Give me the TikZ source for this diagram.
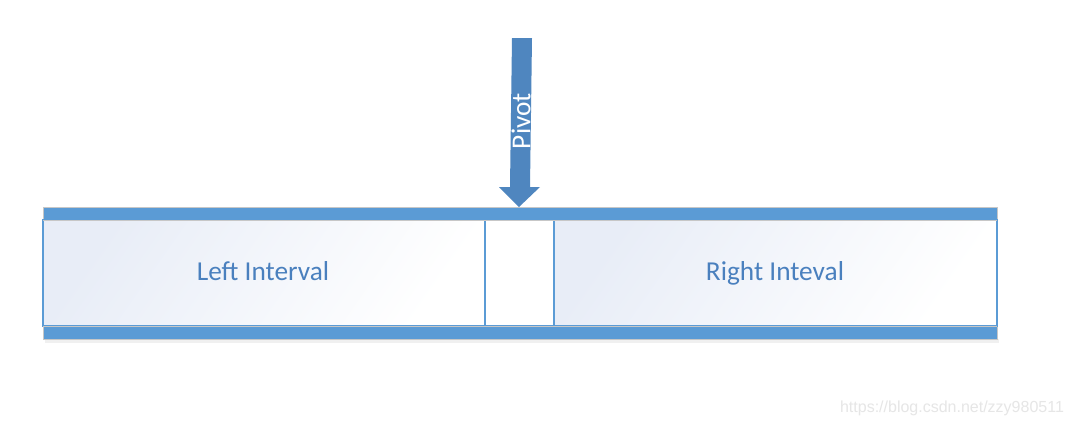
\documentclass[tikz,border=0pt]{standalone}
\usepackage{fontspec}
\setmainfont{Carlito}
\usetikzlibrary{shadings}
\definecolor{barblue}{HTML}{5B9BD5}
\definecolor{edgeblue}{HTML}{5B9BD5}
\definecolor{txtblue}{HTML}{4A80BE}
\definecolor{arrowblue}{HTML}{4F86BF}
\definecolor{lightfill}{HTML}{E8EDF7}
\definecolor{wmgray}{HTML}{E6E6E6}
\tikzset{
  bar/.style={fill=barblue, draw=black!22, line width=0.6pt},
  cell/.style={top color=lightfill, bottom color=white, shading angle=55},
  celledge/.style={draw=edgeblue, line width=0.8pt},
  lbl/.style={text=txtblue, font=\fontsize{20.5}{24}\selectfont, anchor=base},
}
\begin{document}
\begin{tikzpicture}[x=0.75pt,y=-0.75pt]
\useasboundingbox[fill=white] (0,0) rectangle (1072,426);
% shadow
\fill[black!6] (45,339) rectangle (999,343);
% bars
\draw[bar] (43,207) rectangle (997,220);
\draw[bar] (43,326) rectangle (997,339);
% cells
\path[cell] (43,220) rectangle (485,326);
\draw[celledge] (43,220) rectangle (485,326);
\path[cell] (554,220) rectangle (997,326);
\draw[celledge] (554,220) rectangle (997,326);
\draw[celledge, fill=white] (485,220) rectangle (554,326);
\draw[black!22, line width=0.6pt] (43,220) -- (997,220);
\draw[black!22, line width=0.6pt] (43,326) -- (997,326);
\node[lbl] (left) at (263,280) {Left Interval};
\node[lbl] (right) at (775,280) {Right Inteval};
% arrow
\fill[arrowblue] (512,38) -- (532,38) -- (530,187) -- (540,187) -- (519,207) -- (499,187) -- (510,187) -- cycle;
\node[text=white, rotate=90, font=\fontsize{20.5}{24}\selectfont] (pivot) at (521,121) {Pivot};
\node[text=wmgray, font=\fontsize{12}{14}\selectfont\fontspec{Liberation Sans}] (wm) at (952,408) {https://blog.csdn.net/zzy980511};
\end{tikzpicture}
\end{document}
